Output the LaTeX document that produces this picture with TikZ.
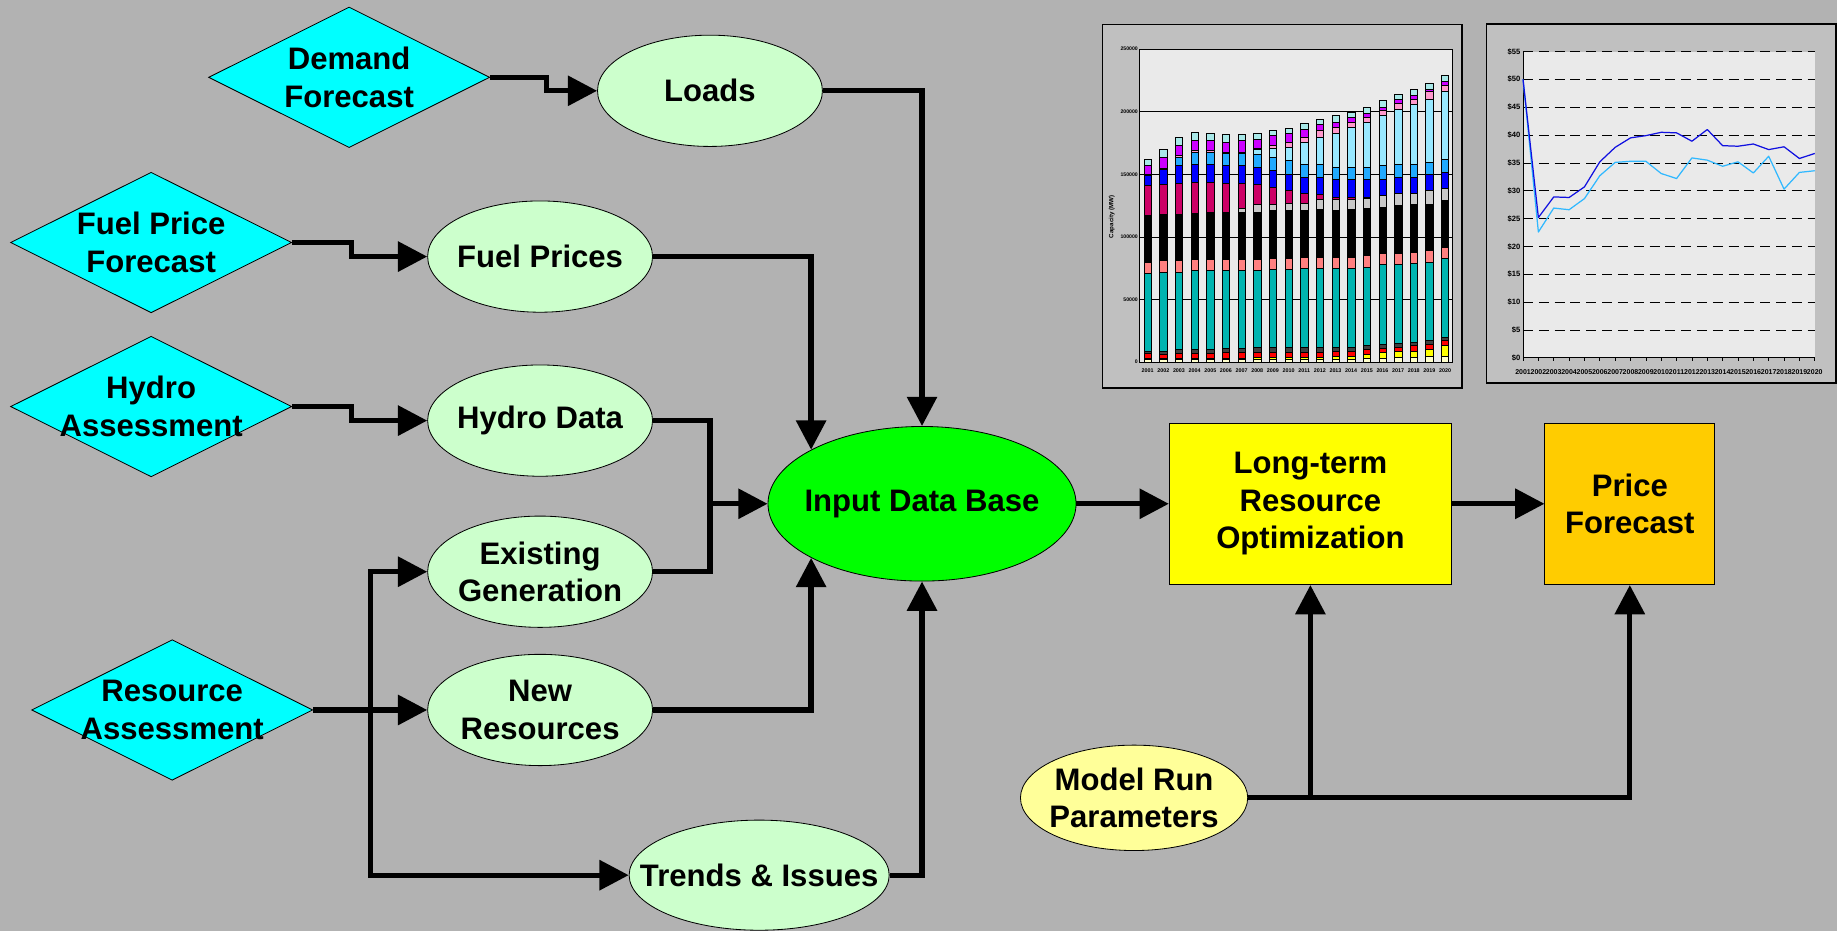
\documentclass[tikz,border=0pt]{standalone}
\usepackage{fontspec}
\setmainfont{Liberation Sans}
\usetikzlibrary{shapes.geometric,arrows.meta,positioning,calc}
\definecolor{slidegray}{HTML}{B2B2B2}
\definecolor{diacyan}{HTML}{00FFFF}
\definecolor{datagreen}{HTML}{CCFFCC}
\definecolor{dbgreen}{HTML}{00FF00}
\definecolor{optyellow}{HTML}{FFFF00}
\definecolor{priceorange}{HTML}{FFCC00}
\definecolor{paramyellow}{HTML}{FFFF99}
\definecolor{framegray}{HTML}{C0C0C0}
\definecolor{plotgray}{HTML}{EAEAEA}
% bar chart layers
\definecolor{barcream}{HTML}{FFFFCC}
\definecolor{baryellow}{HTML}{FFFF00}
\definecolor{barred}{HTML}{FF0000}
\definecolor{bardark}{HTML}{404040}
\definecolor{barteal}{HTML}{00B4B0}
\definecolor{barsalmon}{HTML}{FF8080}
\definecolor{barblack}{HTML}{000000}
\definecolor{bargray}{HTML}{C8C8C8}
\definecolor{barcrimson}{HTML}{CC0066}
\definecolor{barblue}{HTML}{0000FF}
\definecolor{barsky}{HTML}{22AAFF}
\definecolor{barpale}{HTML}{99E8FF}
\definecolor{barpink}{HTML}{FF99CC}
\definecolor{barpurple}{HTML}{CC00FF}
\definecolor{barcap}{HTML}{A8E8E8}
\definecolor{pricedark}{HTML}{1010E0}
\definecolor{pricelight}{HTML}{30B8FF}
\newcommand{\diagfont}{\fontsize{15.1}{18.2}\selectfont\bfseries}
\newcommand{\setlayer}[1]{\edef\layer{\ifcase#1\or barcream\or baryellow\or barred\or bardark\or barteal\or barsalmon\or barblack\or bargray\or barcrimson\or barblue\or barsky\or barpale\or barpink\or barpurple\or barcap\fi}}
\tikzset{
  forecast/.style={diamond, draw=black, line width=0.4pt, fill=diacyan, minimum width=4.8cm, minimum height=2.4cm, inner sep=0pt},
  dataset/.style={ellipse, draw=black, line width=0.4pt, fill=datagreen, minimum width=3.84cm, minimum height=1.9cm, inner sep=0pt},
  lbl/.style={font=\diagfont, align=center, inner sep=0pt},
  block/.style={rectangle, draw=black, line width=0.4pt, minimum height=2.76cm, align=center, font=\diagfont},
  link/.style={line width=0.09cm, draw=black},
  flow/.style={link, -{Triangle[length=0.5cm,width=0.5cm]}},
  chartframe/.style={fill=framegray, draw=black, line width=0.7pt},
  gridline/.style={black, line width=0.35pt, dash pattern=on 0.17cm off 0.1cm},
  ticklbl/.style={font=\fontsize{2.5}{3}\selectfont\bfseries, inner sep=0.3pt},
  yearlbl/.style={font=\fontsize{2.6}{3}\selectfont\bfseries, inner sep=0pt},
  pricelbl/.style={font=\fontsize{3.7}{4}\selectfont\bfseries, inner sep=0.5pt, anchor=east},
  priceline/.style={line width=0.6pt, line join=round},
}
\begin{document}
\begin{tikzpicture}[x=0.02cm, y=-0.02cm]
  \useasboundingbox (0,0) rectangle (1568,795);
  \fill[slidegray] (0,0) rectangle (1568,795);

  % sources
  \node[forecast, label={[lbl]center:Demand\\Forecast}] (demand) at (298,66) {};
  \node[forecast, label={[lbl]center:Fuel Price\\Forecast}] (fuelfc) at (129,207) {};
  \node[forecast, label={[lbl]center:Hydro\\Assessment}] (hydroas) at (129,347) {};
  \node[forecast, label={[lbl]center:Resource\\Assessment}] (resas) at (147,606) {};

  % data sets
  \node[dataset, label={[lbl]center:Loads}] (loads) at (606,77.5) {};
  \node[dataset, label={[lbl]center:Fuel Prices}] (fuelp) at (461,219) {};
  \node[dataset, label={[lbl]center:Hydro Data}] (hydrod) at (461,359) {};
  \node[dataset, label={[lbl]center:Existing\\Generation}] (existgen) at (461,488) {};
  \node[dataset, label={[lbl]center:New\\Resources}] (newres) at (461,606) {};
  \node[dataset, minimum width=4.44cm, minimum height=1.88cm, label={[lbl]center:Trends \& Issues}] (trends) at (648,747) {};

  % model
  \node[dataset, fill=dbgreen, minimum width=5.26cm, minimum height=2.64cm, label={[lbl]center:Input Data Base}] (idb) at (787,430) {};
  \node[block, fill=optyellow, minimum width=4.82cm] (ltro) at (1118.5,430) {Long-term\\Resource\\Optimization};
  \node[block, fill=priceorange, minimum width=2.9cm, right=1.58cm of ltro] (price) {Price\\Forecast};
  \node[dataset, fill=paramyellow, minimum width=3.88cm, minimum height=1.8cm, label={[lbl]center:Model Run\\Parameters}] (modelrun) at (968,681) {};

  \draw[flow] (demand.east) -- ++(48,0) |- (loads.west);
  \draw[flow] (fuelfc.east) -- ++(51,0) |- (fuelp.west);
  \draw[flow] (hydroas.east) -- ++(51,0) |- (hydrod.west);
  \draw[flow] (loads.east) -| (idb.north);
  \draw[flow] (fuelp.east) -| (idb.154);
  \coordinate (merge) at (606,430);
  \draw[link] (hydrod.east) -| (merge);
  \draw[link] (existgen.east) -| (merge);
  \draw[flow] (merge) -- (idb.west);
  \draw[flow] (newres.east) -| (idb.206);
  \draw[flow] (trends.east) -| (idb.south);
  \coordinate (split) at (316,606);
  \draw[flow] (resas.east) -- (newres.west);
  \draw[flow] (split) |- (existgen.west);
  \draw[flow] (split) |- (trends.west);
  \draw[flow] (idb.east) -- (ltro.west);
  \draw[flow] (ltro.east) -- (price.west);
  \draw[flow] (modelrun.east) -| (price.south);
  \draw[flow] (modelrun.east -| ltro.south) -- (ltro.south);

  % capacity chart
  \draw[chartframe] (941,21) rectangle (1248,331);
  \fill[plotgray] (973,42) rectangle (1240,309);
  \foreach \k in {1,...,4}
    \draw[black, line width=0.35pt] (973,{309-53.4*\k}) -- (1240,{309-53.4*\k});
  \foreach \v/\t in {0/0,1/50000,2/100000,3/150000,4/200000,5/250000}
    \node[ticklbl, anchor=east] (cap\v) at (972,{309-53.4*\v}) {\t};
  \foreach \vals [count=\i] in {
      {2,3,7,9,71,80,117,117,141,149,149,149,150,157,162},
      {2,3,6,9,72,81,118,118,142,154,154,154,155,164,170},
      {2,3,7,10,72,81,118,118,143,157,164,164,165,173,180},
      {2,3,7,10,73,82,119,119,144,158,168,168,169,177,184},
      {2,3,7,10,73,82,120,120,144,158,168,168,169,177,183},
      {2,3,8,11,73,82,120,120,143,157,167,167,168,176,182},
      {2,3,8,11,73,82,120,123,143,157,167,167,168,177,182},
      {2,4,8,12,73,82,120,126,142,156,166,170,171,178,183},
      {2,4,8,12,74,83,121,126,140,153,164,171,173,181,185},
      {2,4,8,12,74,83,121,127,137,150,161,172,176,183,187},
      {2,4,8,12,75,84,121,127,135,148,158,176,180,186,191},
      {2,4,8,12,75,84,122,130,134,148,158,180,185,190,194},
      {2,5,9,12,75,84,121,130,132,146,156,183,188,192,197},
      {2,5,9,12,75,84,122,130,132,146,156,188,192,196,200},
      {3,6,10,13,76,85,123,131,132,146,156,192,196,199,204},
      {3,8,11,14,78,87,124,133,133,146,157,197,201,204,209},
      {4,9,12,15,78,87,125,135,135,148,158,202,207,210,214},
      {4,9,13,16,79,88,126,135,135,148,158,206,210,213,218},
      {5,10,14,17,80,89,126,137,137,150,160,210,216,218,223},
      {5,13,17,20,83,92,129,139,139,152,162,216,221,224,229}} {
    \pgfmathsetmacro\bx{979.6+(\i-1)*13.36}
    \foreach \tp [count=\k, remember=\tp as \bt (initially 0)] in \vals {
      \ifdim\tp pt>\bt pt
        \setlayer{\k}
        \filldraw[fill=\layer, draw=black, line width=0.25pt] ({\bx-3.15},{309-1.068*\bt}) rectangle ({\bx+3.15},{309-1.068*\tp});
      \fi
    }
    \pgfmathtruncatemacro\yr{2000+\i}
    \node[yearlbl] (capyr\i) at (\bx,316) {\yr};
  }
  \draw[black, line width=0.5pt] (973,42) rectangle (1240,309);
  \node[rotate=90, font=\fontsize{3}{3.5}\selectfont\bfseries] (capaxis) at (949,185) {Capacity (MW)};

  % price chart
  \draw[chartframe] (1269,20.5) rectangle (1567,327);
  \fill[plotgray] (1300,44) rectangle (1549,305.5);
  \foreach \k in {1,...,11}
    \draw[gridline] (1300,{305.5-23.77*\k}) -- (1549,{305.5-23.77*\k});
  \foreach \k in {0,...,11} {
    \pgfmathtruncatemacro\d{5*\k}
    \node[pricelbl] (pr\k) at (1299,{305.5-23.77*\k}) {\$\d};
  }
  \draw[black, line width=0.5pt] (1300,44) -- (1300,305.5) -- (1549,305.5);
  \foreach \i in {0,...,19} {
    \draw[black, line width=0.35pt] ({1300+13.105*\i},305.5) -- ++(0,3);
    \pgfmathtruncatemacro\yr{2001+\i}
    \node[font=\fontsize{3.4}{4}\selectfont\bfseries, inner sep=0pt] (pryr\i) at ({1300+13.105*\i},318) {\yr};
  }
  \draw[priceline, pricelight] (1300,{305.5-50*4.755})
    \foreach \v [count=\i] in {22.6,26.9,26.6,28.6,32.7,35.1,35.3,35.3,33.1,32.2,35.9,35.5,34.4,35.2,33.2,36.2,30.3,33.3,33.6}
      { -- ({1300+13.105*\i},{305.5-\v*4.755}) };
  \draw[priceline, pricedark] (1300,{305.5-50*4.755})
    \foreach \v [count=\i] in {25.2,28.9,28.8,30.7,35.2,37.8,39.5,39.9,40.5,40.4,38.9,41,38.1,38,38.4,37.4,37.9,35.8,36.7}
      { -- ({1300+13.105*\i},{305.5-\v*4.755}) };
\end{tikzpicture}
\end{document}
